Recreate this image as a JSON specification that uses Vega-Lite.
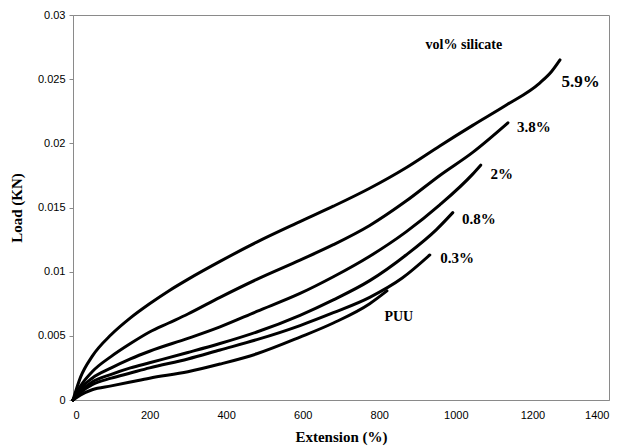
{
  "$schema": "https://vega.github.io/schema/vega-lite/v6.json",
  "width": 536,
  "height": 385,
  "autosize": {"type": "none"},
  "padding": {"left": 73, "top": 15, "right": 15, "bottom": 47},
  "background": "white",
  "config": {
    "view": {"stroke": "#8a8a8a", "strokeWidth": 1},
    "axis": {"grid": false, "labelFont": "Liberation Sans", "labelFontSize": 11, "labelColor": "#000", "domainColor": "#8a8a8a", "tickColor": "#8a8a8a", "titleFont": "Liberation Serif", "titleFontSize": 15, "titleFontWeight": "bold", "titleColor": "#000"}
  },
  "datasets": {
    "curves": [
      {"series": "5.9%", "x": 0, "y": 0},
      {"series": "5.9%", "x": 20, "y": 0.0018},
      {"series": "5.9%", "x": 50, "y": 0.0034},
      {"series": "5.9%", "x": 100, "y": 0.0051},
      {"series": "5.9%", "x": 150, "y": 0.0064},
      {"series": "5.9%", "x": 200, "y": 0.0075},
      {"series": "5.9%", "x": 250, "y": 0.0085},
      {"series": "5.9%", "x": 300, "y": 0.0094},
      {"series": "5.9%", "x": 384, "y": 0.0108},
      {"series": "5.9%", "x": 480, "y": 0.0123},
      {"series": "5.9%", "x": 593, "y": 0.0139},
      {"series": "5.9%", "x": 680, "y": 0.0151},
      {"series": "5.9%", "x": 775, "y": 0.0165},
      {"series": "5.9%", "x": 870, "y": 0.0181},
      {"series": "5.9%", "x": 958, "y": 0.0198},
      {"series": "5.9%", "x": 1044, "y": 0.0214},
      {"series": "5.9%", "x": 1133, "y": 0.0230},
      {"series": "5.9%", "x": 1219, "y": 0.0247},
      {"series": "5.9%", "x": 1250, "y": 0.0256},
      {"series": "5.9%", "x": 1272, "y": 0.0265},
      {"series": "3.8%", "x": 0, "y": 0},
      {"series": "3.8%", "x": 20, "y": 0.0011},
      {"series": "3.8%", "x": 50, "y": 0.0022},
      {"series": "3.8%", "x": 100, "y": 0.0034},
      {"series": "3.8%", "x": 150, "y": 0.0044},
      {"series": "3.8%", "x": 200, "y": 0.0053},
      {"series": "3.8%", "x": 250, "y": 0.0060},
      {"series": "3.8%", "x": 300, "y": 0.0067},
      {"series": "3.8%", "x": 384, "y": 0.0080},
      {"series": "3.8%", "x": 480, "y": 0.0094},
      {"series": "3.8%", "x": 593, "y": 0.0109},
      {"series": "3.8%", "x": 680, "y": 0.0121},
      {"series": "3.8%", "x": 775, "y": 0.0136},
      {"series": "3.8%", "x": 870, "y": 0.0155},
      {"series": "3.8%", "x": 958, "y": 0.0175},
      {"series": "3.8%", "x": 1044, "y": 0.0193},
      {"series": "3.8%", "x": 1136, "y": 0.0216},
      {"series": "2%", "x": 0, "y": 0},
      {"series": "2%", "x": 20, "y": 0.0009},
      {"series": "2%", "x": 50, "y": 0.0017},
      {"series": "2%", "x": 100, "y": 0.0025},
      {"series": "2%", "x": 150, "y": 0.0032},
      {"series": "2%", "x": 200, "y": 0.0038},
      {"series": "2%", "x": 300, "y": 0.0048},
      {"series": "2%", "x": 384, "y": 0.0057},
      {"series": "2%", "x": 480, "y": 0.0069},
      {"series": "2%", "x": 593, "y": 0.0083},
      {"series": "2%", "x": 680, "y": 0.0096},
      {"series": "2%", "x": 775, "y": 0.0112},
      {"series": "2%", "x": 870, "y": 0.0131},
      {"series": "2%", "x": 958, "y": 0.0152},
      {"series": "2%", "x": 1044, "y": 0.0176},
      {"series": "2%", "x": 1065, "y": 0.0183},
      {"series": "0.8%", "x": 0, "y": 0},
      {"series": "0.8%", "x": 20, "y": 0.0007},
      {"series": "0.8%", "x": 50, "y": 0.0014},
      {"series": "0.8%", "x": 100, "y": 0.0020},
      {"series": "0.8%", "x": 150, "y": 0.0025},
      {"series": "0.8%", "x": 200, "y": 0.0029},
      {"series": "0.8%", "x": 300, "y": 0.0037},
      {"series": "0.8%", "x": 384, "y": 0.0044},
      {"series": "0.8%", "x": 480, "y": 0.0053},
      {"series": "0.8%", "x": 593, "y": 0.0066},
      {"series": "0.8%", "x": 680, "y": 0.0078},
      {"series": "0.8%", "x": 775, "y": 0.0093},
      {"series": "0.8%", "x": 870, "y": 0.0113},
      {"series": "0.8%", "x": 950, "y": 0.0133},
      {"series": "0.8%", "x": 992, "y": 0.0146},
      {"series": "0.3%", "x": 0, "y": 0},
      {"series": "0.3%", "x": 20, "y": 0.0006},
      {"series": "0.3%", "x": 50, "y": 0.0012},
      {"series": "0.3%", "x": 100, "y": 0.0017},
      {"series": "0.3%", "x": 150, "y": 0.0021},
      {"series": "0.3%", "x": 200, "y": 0.0025},
      {"series": "0.3%", "x": 300, "y": 0.0032},
      {"series": "0.3%", "x": 384, "y": 0.0039},
      {"series": "0.3%", "x": 480, "y": 0.0047},
      {"series": "0.3%", "x": 593, "y": 0.0058},
      {"series": "0.3%", "x": 680, "y": 0.0068},
      {"series": "0.3%", "x": 775, "y": 0.0080},
      {"series": "0.3%", "x": 860, "y": 0.0095},
      {"series": "0.3%", "x": 932, "y": 0.0113},
      {"series": "PUU", "x": 0, "y": 0},
      {"series": "PUU", "x": 20, "y": 0.0004},
      {"series": "PUU", "x": 50, "y": 0.0008},
      {"series": "PUU", "x": 100, "y": 0.0011},
      {"series": "PUU", "x": 150, "y": 0.0014},
      {"series": "PUU", "x": 200, "y": 0.0017},
      {"series": "PUU", "x": 300, "y": 0.0022},
      {"series": "PUU", "x": 384, "y": 0.0028},
      {"series": "PUU", "x": 480, "y": 0.0036},
      {"series": "PUU", "x": 593, "y": 0.0049},
      {"series": "PUU", "x": 680, "y": 0.0060},
      {"series": "PUU", "x": 775, "y": 0.0075},
      {"series": "PUU", "x": 820, "y": 0.0085}
    ],
    "labels": [
      {"label": "vol% silicate", "x": 1021, "y": 0.0277, "size": 14},
      {"label": "5.9%", "x": 1326, "y": 0.0248, "size": 17},
      {"label": "3.8%", "x": 1204, "y": 0.0213, "size": 15},
      {"label": "2%", "x": 1120, "y": 0.0176, "size": 15},
      {"label": "0.8%", "x": 1060, "y": 0.0141, "size": 15},
      {"label": "0.3%", "x": 1003, "y": 0.0111, "size": 15},
      {"label": "PUU", "x": 851, "y": 0.0065, "size": 14}
    ]
  },
  "layer": [
    {
      "data": {"name": "curves"},
      "mark": {"type": "line", "color": "#000", "strokeWidth": 3, "strokeCap": "round", "strokeJoin": "round", "interpolate": "monotone"},
      "encoding": {
        "x": {"field": "x", "type": "quantitative", "scale": {"domain": [0, 1400], "nice": false}, "axis": {"values": [0, 200, 400, 600, 800, 1000, 1200, 1400], "format": "d", "title": "Extension (%)", "ticks": false, "labelPadding": 9, "titlePadding": 9}},
        "y": {"field": "y", "type": "quantitative", "scale": {"domain": [0, 0.03], "nice": false}, "axis": {"values": [0, 0.005, 0.01, 0.015, 0.02, 0.025, 0.03], "format": "~f", "title": "Load (KN)", "tickSize": 4, "labelPadding": 4, "titlePadding": 13}},
        "detail": {"field": "series"}
      }
    },
    {
      "data": {"name": "labels"},
      "mark": {"type": "text", "font": "Liberation Serif", "fontWeight": "bold", "color": "#000", "align": "center", "baseline": "middle"},
      "encoding": {
        "x": {"field": "x", "type": "quantitative"},
        "y": {"field": "y", "type": "quantitative"},
        "text": {"field": "label"},
        "size": {"field": "size", "type": "quantitative", "scale": null}
      }
    }
  ]
}
